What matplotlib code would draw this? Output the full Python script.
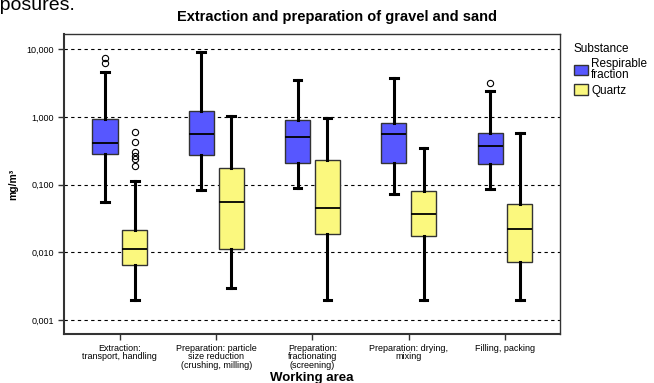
import matplotlib
matplotlib.use("Agg")
import matplotlib.pyplot as plt
from matplotlib.patches import Patch

plt.rcParams['font.family'] = ['Liberation Sans', 'DejaVu Sans']

# working areas
areas = ["Extraction:\ntransport, handling",
         "Preparation: particle\nsize reduction\n(crushing, milling)",
         "Preparation:\nfractionating\n(screening)",
         "Preparation: drying,\nmixing",
         "Filling, packing"]

# respirable fraction: lower whisker, q1, median, q3, upper whisker
resp_lo = [0.056, 0.0835, 0.090, 0.072, 0.0855]
resp_q1 = [0.281, 0.272, 0.211, 0.211, 0.200]
resp_med = [0.417, 0.555, 0.500, 0.555, 0.373]
resp_q3 = [0.925, 1.23, 0.90, 0.824, 0.586]
resp_hi = [4.67, 9.2, 3.52, 3.73, 2.37]
resp_out = [[7.5, 6.3], [], [], [], [3.15]]

# quartz
qz_lo = [0.002, 0.003, 0.002, 0.002, 0.002]
qz_q1 = [0.0065, 0.011, 0.0187, 0.0173, 0.00714]
qz_med = [0.0111, 0.0555, 0.0457, 0.0366, 0.0222]
qz_q3 = [0.0212, 0.178, 0.232, 0.0807, 0.0513]
qz_hi = [0.113, 1.03, 0.957, 0.352, 0.586]
qz_out = [[0.594, 0.423, 0.307, 0.26, 0.237, 0.185], [], [], [], []]

yticks = [0.001, 0.01, 0.1, 1, 10]
ytick_labels = ["0,001", "0,010", "0,100", "1,000", "10,000"]

blue = "#5757FF"
yellow = "#FBF87E"


def make_stats(lo, q1, med, q3, hi, out):
    return [dict(whislo=a, q1=b, med=c, q3=d, whishi=e, fliers=f)
            for a, b, c, d, e, f in zip(lo, q1, med, q3, hi, out)]


fig = plt.figure(figsize=(6.54, 3.83), dpi=100)
ax = fig.add_axes([0.098, 0.128, 0.758, 0.783])

n = len(areas)
off = 0.155
w = 0.26
for stats, shift, col in [(make_stats(resp_lo, resp_q1, resp_med, resp_q3, resp_hi, resp_out), -off, blue),
                          (make_stats(qz_lo, qz_q1, qz_med, qz_q3, qz_hi, qz_out), off, yellow)]:
    ax.bxp(stats, positions=[i + shift for i in range(n)], widths=w,
           patch_artist=True, manage_ticks=False,
           boxprops=dict(facecolor=col, edgecolor="#333333", linewidth=1.0),
           medianprops=dict(color="black", linewidth=1.3),
           whiskerprops=dict(color="black", linewidth=2.2),
           capprops=dict(color="black", linewidth=2.2),
           capwidths=0.08,
           flierprops=dict(marker="o", markersize=4.5, markerfacecolor="none",
                           markeredgecolor="black", markeredgewidth=0.8))

ax.set_yscale("log")
ax.set_ylim(0.00062, 16.7)
ax.set_xlim(-0.58, 4.57)
ax.set_yticks(yticks)
ax.set_yticklabels(ytick_labels, fontsize=6.5)
ax.minorticks_off()
ax.set_xticks(range(n))
ax.set_xticklabels(areas, fontsize=6.5, linespacing=0.92)
ax.tick_params(axis="both", length=4, width=1, color="#333333")
ax.tick_params(axis="x", pad=3)
for yv in yticks:
    ax.axhline(yv, color="black", linestyle=(0, (3, 3)), linewidth=0.8, zorder=0)
for s in ax.spines.values():
    s.set_color("#333333")
    s.set_linewidth(1.0)
ax.spines["left"].set_linewidth(1.5)
ax.spines["bottom"].set_linewidth(1.5)

ax.set_ylabel("mg/m³", fontsize=7.5, fontweight="bold", labelpad=6)
fig.text(0.477, 0.006, "Working area", fontsize=9.5, fontweight="bold",
         ha="center", va="baseline")
fig.text(0.515, 0.945, "Extraction and preparation of gravel and sand",
         fontsize=10.5, fontweight="bold", ha="center", va="baseline")

handles = [Patch(facecolor=blue, edgecolor="#333333", label="Respirable\nfraction"),
           Patch(facecolor=yellow, edgecolor="#333333", label="Quartz")]
leg = fig.legend(handles=handles, title="Substance", loc="upper left",
                 bbox_to_anchor=(0.877, 0.888), frameon=False, fontsize=8.5,
                 title_fontsize=8.5, handlelength=1.2, handleheight=1.0,
                 handletextpad=0.3, labelspacing=0.25, borderaxespad=0,
                 borderpad=0)
leg._legend_box.align = "left"
for t in leg.get_texts():
    t.set_linespacing(0.95)

fig.text(-0.032, 0.974, "exposures.", fontsize=14, va="baseline", ha="left")

fig.savefig("out.png", dpi=100)
